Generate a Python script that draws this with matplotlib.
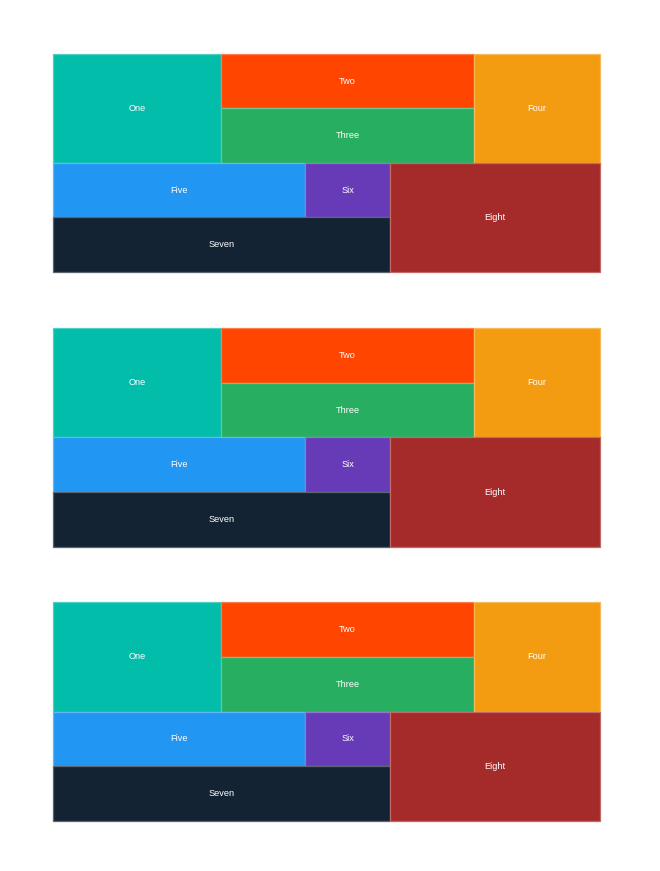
import matplotlib
matplotlib.use("Agg")
import matplotlib.pyplot as plt
from matplotlib.patches import Rectangle
import matplotlib.colors as mcolors

# ---- data ----
categories = ["One", "Two", "Three", "Four", "Five", "Six", "Seven", "Eight"]
values = [4, 3, 3, 3, 3, 1, 4, 5]
colors = ["#02BDAA", "#FF4500", "#27AE60", "#F39C12",
          "#2196F3", "#673AB7", "#142333", "#A52A2A"]

# grouping of the layout (indices into categories); 'v' stacks, 'h' places side by side
layout_tree = ("v", [
    ("h", [0, ("v", [1, 2]), 3]),
    ("h", [("v", [("h", [4, 5]), 6]), 7]),
])

# panel pixel boxes (left, top, right, bottom) in a 660x871 figure
panel_boxes = [(53, 54, 600, 272), (53, 328, 600, 547), (53, 602, 600, 821)]

W, H = 660, 871


def node_value(node):
    if isinstance(node, int):
        return values[node]
    return sum(node_value(c) for c in node[1])


def layout(node, x0, y0, x1, y1, out):
    if isinstance(node, int):
        out.append((node, x0, y0, x1, y1))
        return
    direction, children = node
    total = node_value(node)
    pos = x0 if direction == "h" else y0
    for c in children:
        frac = node_value(c) / total
        if direction == "h":
            nxt = pos + (x1 - x0) * frac
            layout(c, pos, y0, nxt, y1, out)
        else:
            nxt = pos + (y1 - y0) * frac
            layout(c, x0, pos, x1, nxt, out)
        pos = nxt


def lighten(c, amt=0.3):
    r, g, b = mcolors.to_rgb(c)
    return (r + (1 - r) * amt, g + (1 - g) * amt, b + (1 - b) * amt)


fig = plt.figure(figsize=(W / 100, H / 100), dpi=100)
fig.patch.set_facecolor("white")
plt.rcParams["font.family"] = ["Liberation Sans", "DejaVu Sans"]

for (l, t, r, b) in panel_boxes:
    ax = fig.add_axes([l / W, 1 - b / H, (r - l) / W, (b - t) / H])
    ax.set_xlim(0, 1)
    ax.set_ylim(1, 0)
    ax.axis("off")
    rects = []
    layout(layout_tree, 0, 0, 1, 1, rects)
    for idx, x0, y0, x1, y1 in rects:
        ax.add_patch(Rectangle((x0, y0), x1 - x0, y1 - y0,
                               facecolor=colors[idx],
                               edgecolor=lighten(colors[idx], 0.3),
                               linewidth=0.9, clip_on=False))
        ax.text((x0 + x1) / 2, (y0 + y1) / 2, categories[idx],
                ha="center", va="center", color="white", fontsize=6.6)

fig.savefig("out.png", dpi=100, facecolor="white")
